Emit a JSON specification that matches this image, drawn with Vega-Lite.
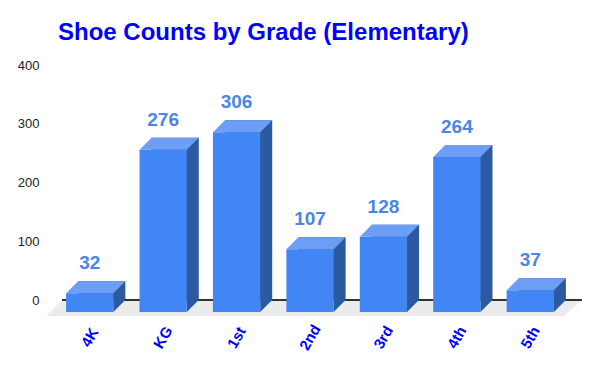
{
  "$schema": "https://vega.github.io/schema/vega-lite/v6.json",
  "width": 520,
  "height": 235,
  "autosize": {"type": "none"},
  "padding": {"left": 62, "top": 65, "right": 18, "bottom": 71},
  "background": "white",
  "title": {
    "text": "Shoe Counts by Grade (Elementary)",
    "anchor": "start",
    "frame": "group",
    "dx": -4,
    "offset": -5,
    "baseline": "alphabetic",
    "font": "Liberation Sans",
    "fontSize": 24,
    "fontWeight": "bold",
    "color": "#0000ff"
  },
  "config": {"view": {"stroke": null}},
  "data": {
    "values": [
      {"grade": "4K", "count": 32},
      {"grade": "KG", "count": 276},
      {"grade": "1st", "count": 306},
      {"grade": "2nd", "count": 107},
      {"grade": "3rd", "count": 128},
      {"grade": "4th", "count": 264},
      {"grade": "5th", "count": 37}
    ]
  },
  "layer": [
    {
      "data": {"values": [{"floor": 0}]},
      "mark": {"type": "point", "shape": "M-260,0 L260,0 L242,16 L-276,16 Z", "size": 4, "filled": true, "opacity": 1, "color": "#ebebeb", "strokeWidth": 0},
      "encoding": {
        "y": {"datum": 0, "type": "quantitative"}
      }
    },
    {
      "mark": {"type": "rule", "color": "#333333", "strokeWidth": 1},
      "encoding": {
        "y": {"datum": 0, "type": "quantitative"}
      }
    },
    {
      "mark": {"type": "bar", "color": "#2c5aa0"},
      "encoding": {
        "x": {
          "field": "grade", "type": "nominal", "sort": null,
          "scale": {"paddingInner": 0.356, "paddingOuter": 0.219},
          "axis": {
            "title": null, "labelAngle": -60, "labelAlign": "center", "labelBaseline": "middle",
            "labelPadding": 37, "labelOffset": -12, "labelFont": "Liberation Sans", "labelFontSize": 15,
            "labelFontWeight": "bold", "labelColor": "#0000ff", "domain": false, "ticks": false, "grid": false
          }
        },
        "y": {
          "field": "count", "type": "quantitative",
          "scale": {"domain": [0, 400], "nice": false},
          "axis": {
            "title": null, "values": [0, 100, 200, 300, 400], "labelPadding": 23,
            "labelFont": "Liberation Sans", "labelFontSize": 13, "labelColor": "#222222",
            "domain": false, "ticks": false, "gridColor": "#cccccc"
          }
        }
      }
    },
    {
      "mark": {"type": "point", "shape": "M11.6,0 L23.6,0 L11.6,12 Z", "size": 4, "filled": true, "opacity": 1, "color": "#2c5aa0", "strokeWidth": 0},
      "encoding": {
        "x": {"field": "grade", "type": "nominal", "sort": null},
        "y": {"datum": 0, "type": "quantitative"}
      }
    },
    {
      "mark": {"type": "bar", "color": "#4285f4", "xOffset": -12, "yOffset": 12, "y2Offset": 12},
      "encoding": {
        "x": {"field": "grade", "type": "nominal", "sort": null},
        "y": {"field": "count", "type": "quantitative"}
      }
    },
    {
      "mark": {"type": "point", "shape": "M-23.6,0 L23.6,0 L11.6,12 L-35.6,12 Z", "size": 4, "filled": true, "opacity": 1, "color": "#6d9ef6", "strokeWidth": 0},
      "encoding": {
        "x": {"field": "grade", "type": "nominal", "sort": null},
        "y": {"field": "count", "type": "quantitative"}
      }
    },
    {
      "mark": {"type": "text", "xOffset": -12, "yOffset": -12, "baseline": "alphabetic", "align": "center", "font": "Liberation Sans", "fontSize": 19, "fontWeight": "bold", "color": "#4a86e8"},
      "encoding": {
        "x": {"field": "grade", "type": "nominal", "sort": null},
        "y": {"field": "count", "type": "quantitative"},
        "text": {"field": "count", "type": "quantitative"}
      }
    }
  ]
}
